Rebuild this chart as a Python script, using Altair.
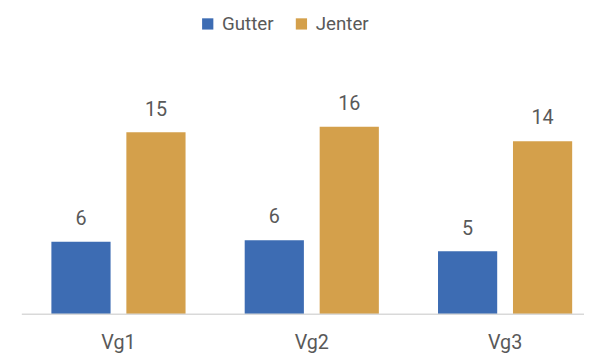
import altair as alt
import pandas as pd

categories = ["Vg1", "Vg2", "Vg3"]
series = ["Gutter", "Jenter"]
gutter = [6.01, 6.15, 5.22]
jenter = [15.11, 15.57, 14.37]
colors = ["#3D6CB3", "#D4A04B"]

rows = []
for c, g, j in zip(categories, gutter, jenter):
    rows.append({"Vg": c, "Kjonn": "Gutter", "Verdi": g})
    rows.append({"Vg": c, "Kjonn": "Jenter", "Verdi": j})
df = pd.DataFrame(rows)

FONT = "Roboto"
TXT = "#595959"
W, H = 552, 244

x = alt.X("Vg:N", sort=categories,
          scale=alt.Scale(paddingInner=0.306, paddingOuter=0.0612),
          axis=alt.Axis(title=None, labelAngle=0, ticks=False, domain=False,
                        labelFontSize=20, labelColor=TXT, labelFont=FONT,
                        labelPadding=19))
xo = alt.XOffset("Kjonn:N", sort=series,
                 scale=alt.Scale(paddingInner=0.2105, paddingOuter=0))
y = alt.Y("Verdi:Q", scale=alt.Scale(domain=[0, 20], nice=False), axis=None)

bars = alt.Chart(df).mark_bar().encode(
    x=x, xOffset=xo, y=y,
    color=alt.Color("Kjonn:N", sort=series,
                    scale=alt.Scale(domain=series, range=colors),
                    legend=alt.Legend(title=None, orient="none", direction="horizontal",
                                      legendX=161, legendY=-60, symbolType="square",
                                      symbolSize=130, symbolStrokeWidth=0, labelFontSize=19,
                                      labelColor=TXT, labelFont=FONT, labelOffset=5,
                                      columnPadding=18)),
)

labels = alt.Chart(df).mark_text(baseline="alphabetic", dy=-17, fontSize=20,
                                 color=TXT, font=FONT).encode(
    x=x, xOffset=xo, y=y,
    text=alt.Text("Verdi:Q", format=".0f"),
)

baseline = alt.Chart(pd.DataFrame({"a": [0]})).mark_rule(
    color="#D9D9D9", strokeWidth=1.5
).encode(x=alt.value(-18), x2=alt.value(W + 10), y=alt.value(H))

chart = alt.layer(bars, baseline, labels).properties(
    width=W, height=H,
    autosize=alt.AutoSizeParams(type="none"),
    padding={"left": 32, "top": 64, "right": 0, "bottom": 39},
).configure_view(stroke=None)

chart.save("out.html", embed_options={"renderer": "svg", "actions": False})
